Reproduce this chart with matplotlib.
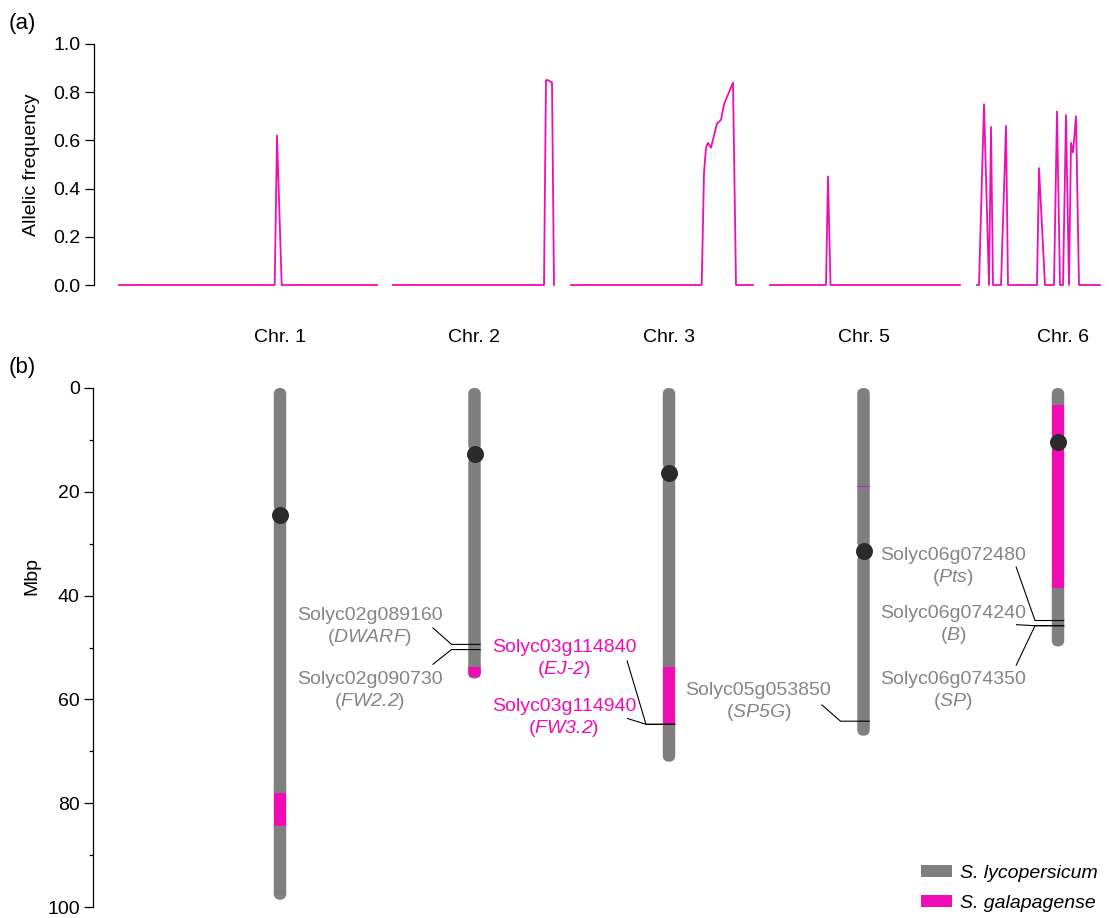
import numpy as np
import matplotlib
matplotlib.use("Agg")
import matplotlib.pyplot as plt
from matplotlib.patches import FancyBboxPatch, Rectangle, Patch

plt.rcParams['font.family'] = ['Liberation Sans', 'DejaVu Sans']
plt.rcParams['mathtext.fontset'] = 'custom'
plt.rcParams['mathtext.rm'] = 'Liberation Sans'
plt.rcParams['mathtext.it'] = 'Liberation Sans:italic'
plt.rcParams['mathtext.sf'] = 'Liberation Sans:italic'
plt.rcParams['font.size'] = 14

# ---------------- data: panel (a) allelic frequency traces ----------------
# positions are in track units along the concatenated genome strip
chr1_pos = [119, 274.7, 277, 281.7, 377]
chr1_freq = [0, 0, 0.62, 0, 0]
chr2_pos = [393, 544, 546, 548, 552, 554]
chr2_freq = [0, 0, 0.85, 0.85, 0.84, 0]
chr3_pos = [571, 701.7, 704, 706, 708, 711, 714, 717, 721, 724, 727, 729, 733, 736, 753]
chr3_freq = [0, 0, 0.465, 0.57, 0.59, 0.57, 0.62, 0.67, 0.685, 0.75, 0.78, 0.80, 0.84, 0, 0]
chr5_pos = [770, 826, 828, 830.5, 960]
chr5_freq = [0, 0, 0.45, 0, 0]
chr6_pos = [977, 979, 984, 989, 991, 993, 1001, 1006, 1008, 1037, 1039, 1045, 1054, 1057,
            1060, 1063, 1066, 1069, 1071, 1073, 1076, 1079, 1100]
chr6_freq = [0, 0, 0.75, 0, 0.656, 0, 0, 0.66, 0, 0, 0.485, 0, 0, 0.72,
             0, 0, 0.705, 0, 0.59, 0.55, 0.70, 0, 0]
traces = [(chr1_pos, chr1_freq), (chr2_pos, chr2_freq), (chr3_pos, chr3_freq),
          (chr5_pos, chr5_freq), (chr6_pos, chr6_freq)]

# ---------------- data: panel (b) chromosomes (Mbp) ----------------
chrom_names = ["Chr. 1", "Chr. 2", "Chr. 3", "Chr. 5", "Chr. 6"]
chrom_len = [98.6, 56.0, 72.0, 67.0, 49.8]
centromere = [24.4, 12.7, 16.3, 31.5, 10.4]
galapagense_bands = [[(78.0, 84.4)], [(53.7, 55.6)], [(53.7, 65.0)], [(18.9, 19.15)], [(3.3, 38.5)]]

gene_ids = ["Solyc02g089160", "Solyc02g090730", "Solyc03g114840", "Solyc03g114940",
            "Solyc05g053850", "Solyc06g072480", "Solyc06g074240", "Solyc06g074350"]
gene_names = ["DWARF", "FW2.2", "EJ-2", "FW3.2", "SP5G", "Pts", "B", "SP"]
gene_chrom = [1, 1, 2, 2, 3, 4, 4, 4]
gene_pos = [49.4, 50.4, 64.8, 64.8, 64.2, 44.8, 45.8, 45.8]
gene_wild = [False, False, True, True, False, False, False, False]
label_y = [46.06, 58.5, 52.4, 63.75, 60.6, 34.5, 45.8, 58.4]
link_y = [46.15, 53.3, 52.5, 63.65, 61.0, 34.4, 45.6, 53.5]

GREY = '#7f7f7f'
PINK = '#f00db5'
TEXT_GREY = '#858585'

W, H = 1109, 918
fig = plt.figure(figsize=(W / 100, H / 100), dpi=100)

# ---------------- panel (a) ----------------
ax_a = fig.add_axes([94 / W, 1 - 285 / H, (W - 94) / W, (285 - 44) / H])
for pos, freq in traces:
    ax_a.plot(pos, freq, color=PINK, lw=1.3, clip_on=False)
ax_a.set_xlim(94, W)
ax_a.set_ylim(0, 1)
ax_a.set_yticks(np.arange(0, 1.01, 0.2))
ax_a.set_yticklabels([f'{v:.1f}' for v in np.arange(0, 1.01, 0.2)])
ax_a.set_xticks([])
for s in ['top', 'right', 'bottom']:
    ax_a.spines[s].set_visible(False)
ax_a.spines['left'].set_linewidth(0.9)
ax_a.tick_params(axis='y', length=6.5, width=0.9, labelsize=14, pad=3)
ax_a.set_ylabel('Allelic frequency', fontsize=14)
ax_a.yaxis.set_label_coords(-0.053, 0.5)
ax_a.patch.set_visible(False)

# ---------------- panel (b) ----------------
px_per_x = 194.5
left_b, top_b, bot_b = 93, 388, 907
ax_b = fig.add_axes([left_b / W, 1 - bot_b / H, (W - left_b) / W, (bot_b - top_b) / H])
x0 = -(280 - left_b) / px_per_x
ax_b.set_xlim(x0, x0 + (W - left_b) / px_per_x)
ax_b.set_ylim(100, 0)
px_per_y = (bot_b - top_b) / 100.0
aspect = px_per_x / px_per_y

half_w = 6.25 / px_per_x
gap = 3 / px_per_y
name_shift = [0, 0, 0, 0, 5 / px_per_x]
for i, name in enumerate(chrom_names):
    arms = [(0, centromere[i] - gap), (centromere[i] + gap, chrom_len[i])]
    for a0, a1 in arms:
        arm = FancyBboxPatch((i - half_w, a0), 2 * half_w, a1 - a0,
                             boxstyle=f"round,pad=0,rounding_size={half_w}",
                             mutation_aspect=aspect, fc=GREY, ec='none', zorder=2)
        ax_b.add_patch(arm)
        for b0, b1 in galapagense_bands[i]:
            lo, hi = max(a0, b0), min(a1, b1)
            if hi > lo:
                band = Rectangle((i - half_w, lo), 2 * half_w, hi - lo, fc=PINK, ec='none', zorder=3)
                ax_b.add_patch(band)
                band.set_clip_path(arm)
    ax_b.scatter([i], [centromere[i]], s=150, color='#2b2b2b', zorder=4, linewidths=0)
    ax_b.annotate(name, xy=(i + name_shift[i], 1), xycoords=('data', 'axes fraction'),
                  xytext=(0, 50 * 0.72), textcoords='offset points',
                  ha='center', va='center', fontsize=14)

end_off = 42 / px_per_x
elbow_off = 23 / px_per_x
text_off = 105 / px_per_x
for gid, gname, c, gp, wild, ly, lk in zip(gene_ids, gene_names, gene_chrom, gene_pos,
                                            gene_wild, label_y, link_y):
    ax_b.plot([c - end_off, c - elbow_off, c + half_w], [lk, gp, gp],
              color='black', lw=0.8, zorder=5, solid_capstyle='butt')
    parts = gname.split('-')
    italic = '-'.join(f'$\\mathsf{{{p}}}$' for p in parts)
    ax_b.text(c - text_off, ly, f'{gid}\n({italic})', ha='center', va='center',
              fontsize=14, color=PINK if wild else TEXT_GREY, linespacing=1.2, zorder=6)

for s in ['top', 'right', 'bottom']:
    ax_b.spines[s].set_visible(False)
ax_b.spines['left'].set_linewidth(0.9)
ax_b.set_xticks([])
ax_b.set_yticks(np.arange(0, 101, 20))
ax_b.set_yticks(np.arange(10, 100, 20), minor=True)
ax_b.tick_params(axis='y', which='major', length=6.5, width=0.9, labelsize=14, pad=3)
ax_b.tick_params(axis='y', which='minor', length=3, width=0.9)
ax_b.set_ylabel('Mbp', fontsize=14)
ax_b.yaxis.set_label_coords(-0.052, 0.637)
ax_b.patch.set_visible(False)

handles = [Patch(fc=GREY, ec='none'), Patch(fc=PINK, ec='none')]
fig.legend(handles, ['S. lycopersicum', 'S. galapagense'], loc='upper left',
           bbox_to_anchor=(921 / W, 1 - 865 / H), frameon=False, borderpad=0,
           borderaxespad=0, handlelength=1.6, handleheight=0.57, handletextpad=0.4,
           labelspacing=0.65, prop={'style': 'italic', 'size': 14})

fig.text(22 / W, 1 - 23 / H, '(a)', ha='center', va='center', fontsize=16)
fig.text(22 / W, 1 - 367 / H, '(b)', ha='center', va='center', fontsize=16)

fig.savefig('out.png', dpi=100)
